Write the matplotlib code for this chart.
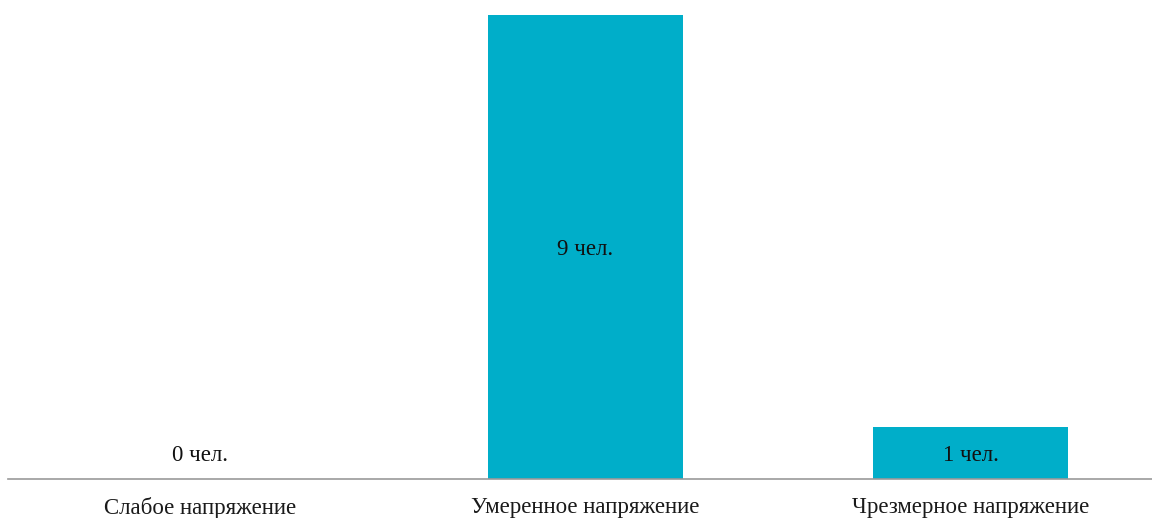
import matplotlib
matplotlib.use("Agg")
import matplotlib.pyplot as plt

categories = ["Слабое напряжение", "Умеренное напряжение", "Чрезмерное напряжение"]
counts = [0, 9, 1]
labels = ["0 чел.", "9 чел.", "1 чел."]

plt.rcParams["font.family"] = ["Liberation Serif", "DejaVu Serif"]

fig = plt.figure(figsize=(11.52, 5.18), dpi=100)
ax = fig.add_axes([8 / 1152, 39 / 518, 1 - 8 / 1152, 1 - 39 / 518])

x = range(len(categories))
ax.bar(x, counts, width=0.506, color="#00aec9")
# label sits in the middle of the bar; empty bar gets it at half a unit
for xi, c, lab in zip(x, counts, labels):
    ax.text(xi, max(c, 1) / 2 - 0.05, lab, ha="center", va="center",
            fontsize=16.5, color="#111111")

ax.set_xlim(-0.5, -0.5 + 1144 / 385)
ax.set_ylim(0, 9 * 479 / 464)
ax.set_xticks(list(x))
ax.set_xticklabels(categories, fontsize=16.5, color="#1a1a1a")
ax.tick_params(axis="x", length=0, pad=13)
ax.set_yticks([])
for side in ["top", "right", "left"]:
    ax.spines[side].set_visible(False)
ax.spines["bottom"].set_color("#999999")
ax.spines["bottom"].set_linewidth(1.2)

fig.savefig("out.png", dpi=100)
